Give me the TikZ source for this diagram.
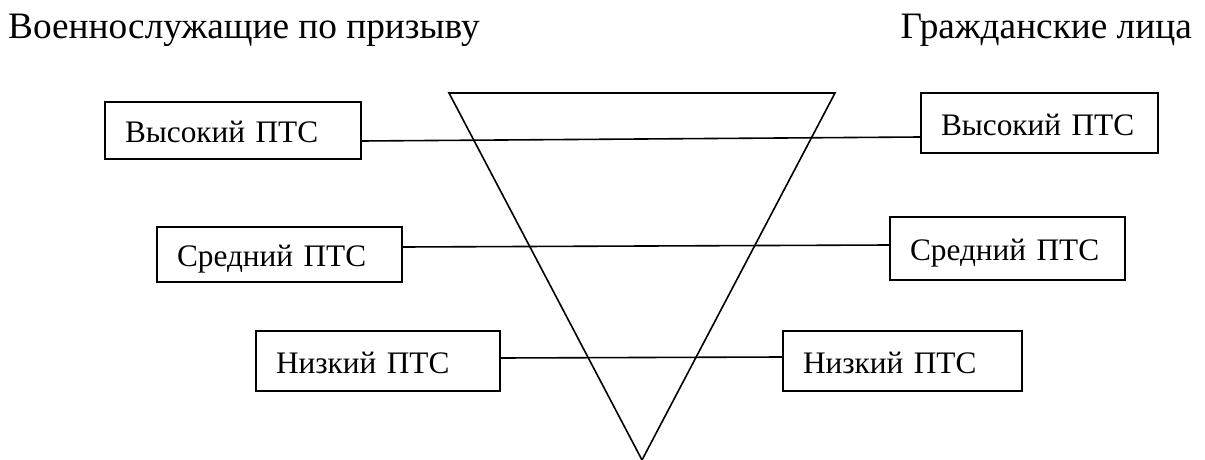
\documentclass[tikz,border=0pt]{standalone}
\usepackage{fontspec}
\setmainfont{Liberation Serif}
\begin{document}
\begin{tikzpicture}[x=1pt,y=-1pt,
  title/.style={inner sep=0pt, font=\fontsize{37.3}{45}\selectfont},
  ptsbox/.style={draw, line width=1.3pt, inner xsep=20pt, inner ysep=0pt, align=left,
    font=\fontsize{31.3}{37}\selectfont, text height=29pt, text depth=5pt},
  conn/.style={line width=1.6pt},
  tri/.style={line width=1.6pt}]
\useasboundingbox (0,0) rectangle (1205,460);
\fill[white] (0,0) rectangle (1205,460);
% titles
\node[title, anchor=base west] (tl) at (8,39) {Военнослужащие по призыву};
\node[title, anchor=base east] (tr) at (1192,39) {Гражданские лица};
% triangle
\coordinate (t1) at (449,93);
\coordinate (t2) at (835,93);
\coordinate (t3) at (642,460);
\draw[tri, line join=miter] (t1) -- (t2) -- (t3) -- cycle;
% boxes
\node[ptsbox, minimum width=256pt, minimum height=57pt, text width=216pt] (b1l) at (233,130.5) {Высокий ПТС};
\node[ptsbox, minimum width=237pt, minimum height=60pt, text width=197pt] (b1r) at (1039.5,123) {Высокий ПТС};
\node[ptsbox, minimum width=245pt, minimum height=55pt, text width=205pt] (b2l) at (279.5,254.5) {Средний ПТС};
\node[ptsbox, minimum width=235pt, minimum height=63pt, text width=195pt] (b2r) at (1007.5,248.5) {Средний ПТС};
\node[ptsbox, minimum width=244pt, minimum height=60pt, text width=204pt] (b3l) at (378,361) {Низкий ПТС};
\node[ptsbox, minimum width=239pt, minimum height=60pt, text width=199pt] (b3r) at (902.5,361) {Низкий ПТС};
% connectors
\draw[conn] ([yshift=-10.5pt]b1l.east) -- ([yshift=-14pt]b1r.west);
\draw[conn] ([yshift=7.5pt]b2l.east) -- ([yshift=3.5pt]b2r.west);
\draw[conn] ([yshift=3pt]b3l.east) -- ([yshift=4pt]b3r.west);
\end{tikzpicture}
\end{document}
